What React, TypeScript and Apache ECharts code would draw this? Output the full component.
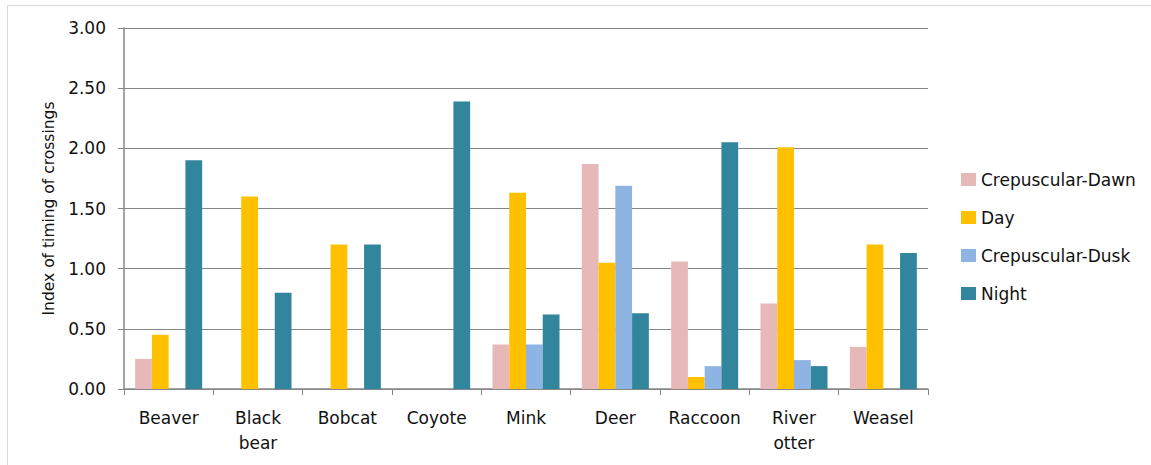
import React, { useEffect, useRef } from "react";
import * as echarts from "echarts";

const categories = ["Beaver", "Black\nbear", "Bobcat", "Coyote", "Mink", "Deer", "Raccoon", "River\notter", "Weasel"];
const seriesNames = ["Crepuscular-Dawn", "Day", "Crepuscular-Dusk", "Night"];
const dawn = [0.25, 0, 0, 0, 0.37, 1.87, 1.06, 0.71, 0.35];
const day = [0.45, 1.6, 1.2, 0, 1.63, 1.05, 0.1, 2.01, 1.2];
const dusk = [0, 0, 0, 0, 0.37, 1.69, 0.19, 0.24, 0];
const night = [1.9, 0.8, 1.2, 2.39, 0.62, 0.63, 2.05, 0.19, 1.13];
const colors = ["#E6B9B8", "#FFC000", "#8EB4E3", "#31859C"];
const yTicks = { min: 0, max: 3, interval: 0.5 };

export default function App() {
  const ref = useRef<HTMLDivElement>(null);
  useEffect(() => {
    document.body.style.margin = "0";
    const chart = echarts.init(ref.current!, null, { renderer: "svg" });
    const font = "'DejaVu Sans', Verdana, sans-serif";
    const data = [dawn, day, dusk, night];
    chart.setOption({
      animation: false,
      textStyle: { fontFamily: font },
      graphic: [
        {
          type: "rect",
          shape: { x: 7.5, y: 5.5, width: 1200, height: 500 },
          style: { fill: "none", stroke: "#D9D9D9", lineWidth: 1 },
          silent: true,
        },
      ],
      grid: { left: 124, right: 223, top: 28, bottom: 76 },
      legend: {
        orient: "vertical",
        left: 956,
        top: 166,
        itemWidth: 15,
        itemHeight: 13,
        itemGap: 21,
        icon: "rect",
        textStyle: { fontSize: 17, color: "#111", fontFamily: font },
        data: seriesNames,
      },
      xAxis: {
        type: "category",
        data: categories,
        axisLine: { lineStyle: { color: "#868686", width: 1.5 } },
        axisTick: { show: true, length: 6, lineStyle: { color: "#868686" } },
        axisLabel: { interval: 0, fontSize: 17, color: "#111", margin: 16, lineHeight: 25, fontFamily: font },
      },
      yAxis: {
        type: "value",
        min: yTicks.min,
        max: yTicks.max,
        interval: yTicks.interval,
        name: "Index of timing of crossings",
        nameLocation: "middle",
        nameGap: 65,
        nameTextStyle: { fontSize: 15.5, color: "#111", fontFamily: font },
        axisLine: { show: true, lineStyle: { color: "#868686", width: 1.5 } },
        axisTick: { show: true, length: 6, lineStyle: { color: "#868686" } },
        axisLabel: { fontSize: 17, color: "#111", margin: 18, formatter: (v: number) => v.toFixed(2), fontFamily: font },
        splitLine: { lineStyle: { color: "#868686", width: 1.2 } },
      },
      series: seriesNames.map((name, i) => ({
        name,
        type: "bar",
        data: data[i],
        barGap: "0%",
        barCategoryGap: "25%",
        itemStyle: { color: colors[i] },
      })),
    });
    return () => chart.dispose();
  }, []);
  return <div ref={ref} style={{ width: 1151, height: 465 }} />;
}
